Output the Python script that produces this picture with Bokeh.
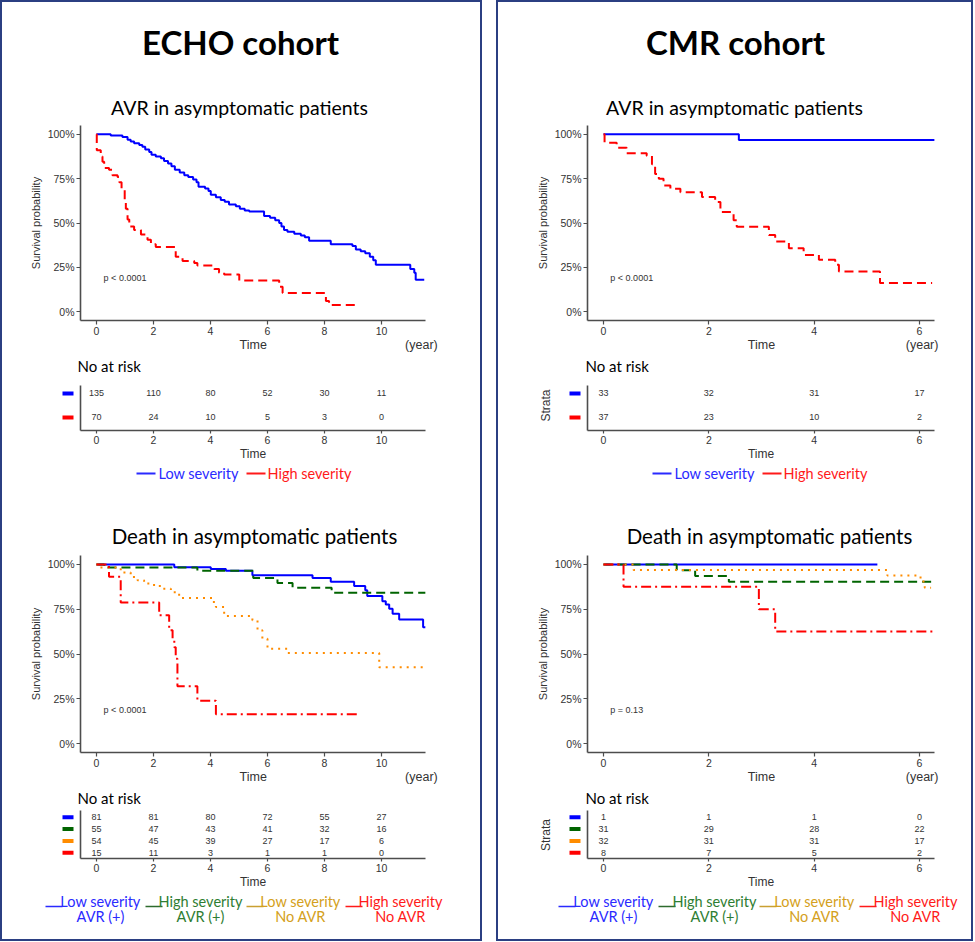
import math
from bokeh.plotting import figure
from bokeh.layouts import column, row
from bokeh.models import Range1d, FixedTicker, LinearAxis
from bokeh.embed import file_html
from bokeh.resources import INLINE
from bokeh.core.properties import value

SANS = "Liberation Sans"
CAL = "Lato"

# ---------------- data ----------------
pct_ticks = [0, 25, 50, 75, 100]
pct_labels = ["0%", "25%", "50%", "75%", "100%"]
echo_times = [0, 2, 4, 6, 8, 10]
cmr_times = [0, 2, 4, 6]

cohorts = ["ECHO cohort", "CMR cohort"]
panel_titles = ["AVR in asymptomatic patients", "Death in asymptomatic patients"]
avr_groups = ["Low severity", "High severity"]
death_groups = ["Low severity", "High severity", "Low severity", "High severity"]
death_subgroups = ["AVR (+)", "AVR (+)", "No AVR", "No AVR"]
p_values = ["p < 0.0001", "p < 0.0001", "p < 0.0001", "p = 0.13"]

# ECHO cohort - AVR
echo_avr_low_t = [0, 0.50, 0.91, 1.09, 1.20, 1.32, 1.50, 1.61, 1.71, 1.85, 1.93, 2.08, 2.26, 2.37,
                  2.51, 2.63, 2.75, 2.92, 3.08, 3.22, 3.39, 3.51, 3.58, 3.81, 3.93, 4.01, 4.19, 4.36,
                  4.50, 4.65, 4.89, 5.03, 5.20, 5.36, 5.88, 6.09, 6.27, 6.41, 6.49, 6.58, 6.70, 6.94,
                  7.17, 7.31, 7.46, 8.22, 8.98, 9.10, 9.27, 9.43, 9.59, 9.71, 9.80, 11.01, 11.15,
                  11.20, 11.50]
echo_avr_low_s = [100, 99.3, 98.5, 97, 96, 95, 94, 93, 91.5, 90, 88.5, 87.5, 86.5, 85,
                  83.5, 82, 80, 78.5, 77, 76, 74.5, 73, 70.5, 69.5, 68, 66, 64.5, 63,
                  62, 60.5, 59.5, 58, 57, 56.5, 54, 53, 51.5, 50, 48, 46, 45, 44,
                  43, 42, 40, 38, 37, 35, 34, 33, 31, 29, 26.5, 24, 22,
                  18, 18]
echo_avr_high_t = [0, 0.01, 0.15, 0.21, 0.27, 0.44, 0.56, 0.74, 0.80, 0.88, 0.99, 1.03, 1.09, 1.15,
                   1.32, 1.56, 1.79, 1.91, 2.08, 2.78, 3.02, 3.43, 3.54, 4.13, 4.30, 4.48, 5.01,
                   6.41, 6.53, 8.05, 8.16, 9.22]
echo_avr_high_s = [100, 91, 87.5, 84.5, 81, 80, 77, 76, 73, 69, 63, 58, 52, 48,
                   46, 43.5, 40.5, 38, 36.5, 31, 28.5, 27.5, 26, 24, 22, 21, 17.5,
                   14, 10.5, 6, 3.7, 3.7]
echo_avr_risk = [[135, 110, 80, 52, 30, 11],
                 [70, 24, 10, 5, 3, 0]]

# ECHO cohort - Death
echo_d_low_avr_t = [0, 2.73, 4.01, 4.54, 5.47, 7.58, 8.22, 9.04, 9.43, 9.50, 10.03, 10.15, 10.27,
                    10.39, 10.62, 11.46, 11.55]
echo_d_low_avr_s = [100, 98.5, 97.5, 96.5, 94, 92.5, 90.3, 88, 85.6, 82.4, 79.4, 77.6, 75.3,
                    72.5, 69.3, 65, 65]
echo_d_high_avr_t = [0, 0.27, 3.54, 5.50, 6.35, 6.88, 8.25, 11.55]
echo_d_high_avr_s = [100, 98.3, 96.5, 92.5, 89.7, 87, 84.2, 84.2]
echo_d_low_no_t = [0, 0.09, 0.85, 1.20, 1.44, 1.67, 2.02, 2.26, 2.61, 2.90, 4.07, 4.19, 4.48,
                   5.47, 5.65, 5.82, 6.00, 6.70, 9.92, 11.55]
echo_d_low_no_s = [100, 98.3, 95.5, 93, 91.2, 89.3, 87.9, 86.5, 84.5, 81.3, 79, 76.3, 71.2,
                   68.8, 63.2, 58.5, 52.9, 50.5, 42.6, 42.6]
echo_d_high_no_t = [0, 0.44, 0.85, 2.20, 2.55, 2.67, 2.73, 2.78, 2.84, 3.54, 4.19, 9.22]
echo_d_high_no_s = [100, 93.1, 78.7, 71.6, 63.2, 58.5, 53.8, 47.3, 32, 23.9, 16.4, 16.4]
echo_death_risk = [[81, 81, 80, 72, 55, 27],
                   [55, 47, 43, 41, 32, 16],
                   [54, 45, 39, 27, 17, 6],
                   [15, 11, 3, 1, 1, 0]]

# CMR cohort - AVR
cmr_avr_low_t = [0, 2.57, 6.29]
cmr_avr_low_s = [100, 96.8, 96.8]
cmr_avr_high_t = [0, 0.02, 0.25, 0.44, 0.82, 0.92, 0.98, 1.05, 1.14, 1.27, 1.46, 1.87, 2.12, 2.22,
                  2.47, 2.53, 3.14, 3.26, 3.52, 3.80, 4.09, 4.40, 4.47, 5.25, 6.24]
cmr_avr_high_s = [100, 95.3, 92.5, 89.4, 87.9, 83.2, 77.7, 74.9, 71.1, 69.3, 67.4, 64.6, 61.8, 56.2,
                  51.6, 47.9, 43.2, 39.5, 35.8, 32, 29.2, 26.4, 22.7, 16.2, 16.2]
cmr_avr_risk = [[33, 32, 31, 17],
                [37, 23, 10, 2]]

# CMR cohort - Death
cmr_d_low_avr_t = [0, 5.20]
cmr_d_low_avr_s = [100, 100]
cmr_d_high_avr_t = [0, 1.39, 1.74, 2.38, 6.30]
cmr_d_high_avr_s = [100, 96.8, 93.5, 90.3, 90.3]
cmr_d_low_no_t = [0, 0.57, 5.39, 6.02, 6.10, 6.22]
cmr_d_low_no_s = [100, 96.9, 93.8, 90.5, 87, 87]
cmr_d_high_no_t = [0, 0.38, 2.95, 3.26, 6.30]
cmr_d_high_no_s = [100, 87.5, 75, 62.5, 62.5]
cmr_death_risk = [[1, 1, 1, 0],
                  [31, 29, 28, 22],
                  [32, 31, 31, 17],
                  [8, 7, 5, 2]]

# ---------------- styles ----------------
BLUE, RED, GREEN, ORANGE = "#0000FF", "#FF0000", "#006400", "#FF8C00"
AVR_COLORS = [BLUE, RED]
AVR_DASH = ["solid", "9 5"]
D_COLORS = [BLUE, GREEN, ORANGE, RED]
D_DASH = ["solid", "9 5", "2 5", "10 4 2 4"]
LEG_TEXT = ["#2a2aff", "#2e7d32", "#d4a020", "#ff1a1a"]
LEG_LINE = ["#2a2aff", "#2e6b2e", "#c9a032", "#ff1a1a"]
AXC = "#4d4d4d"
TXC = "#333333"
BORDER = "2px solid #2b3f82"


def base_fig(width, height, **kw):
    p = figure(width=width, height=height, output_backend="svg", toolbar_location=None, **kw)
    p.outline_line_color = None
    p.background_fill_color = "white"
    p.border_fill_color = "white"
    return p


def text_fig(width, height, xr, yr):
    # x/y ranges in page pixel coordinates (y downwards), frame = whole canvas
    p = base_fig(width, height, x_range=Range1d(*xr), y_range=Range1d(yr[1], yr[0]),
                 min_border=0, x_axis_location=None, y_axis_location=None)
    p.xgrid.visible = False
    p.ygrid.visible = False
    return p


def style_axes(p):
    p.xgrid.visible = False
    p.ygrid.visible = False
    for ax in p.axis:
        ax.axis_line_color = AXC
        ax.axis_line_width = 1.6
        ax.major_tick_line_color = AXC
        ax.major_tick_line_width = 1.2
        ax.major_tick_out = 4
        ax.major_tick_in = 0
        ax.minor_tick_out = 0
        ax.minor_tick_line_color = None
        ax.major_label_text_font = SANS
        ax.major_label_text_font_size = "10.5px"
        ax.major_label_text_color = TXC
        ax.axis_label_text_font = SANS
        ax.axis_label_text_font_size = "12px"
        ax.axis_label_text_font_style = "normal"
        ax.axis_label_text_color = TXC
        ax.major_label_standoff = 2
        ax.axis_label_standoff = 1
    p.yaxis.axis_label_text_font_size = "11px"
    p.yaxis.axis_label_standoff = 3


def header_fig(width, height, xr, yr, texts, align="center"):
    p = text_fig(width, height, xr, yr)
    for (x, y, txt, size, style) in texts:
        p.text(x=[x], y=[y], text=[txt], text_align=align, text_baseline="middle",
               text_font=value(CAL), text_font_size=size, text_font_style=style, text_color="black")
    return p


def km_fig(width, height, xr, bl, br, bb, xticks, curves, pval, pval_x, time_x, year_x):
    p = base_fig(width, height, x_range=Range1d(*xr), y_range=Range1d(-5, 105),
                 min_border_left=bl, min_border_right=br, min_border_top=0, min_border_bottom=bb,
                 y_axis_label="Survival probability")
    style_axes(p)
    p.xaxis.ticker = FixedTicker(ticks=xticks)
    p.yaxis.ticker = FixedTicker(ticks=pct_ticks)
    p.yaxis.major_label_overrides = dict(zip(pct_ticks, pct_labels))
    # second row under the tick labels: "Time" and "(year)"
    ax2 = LinearAxis(ticker=FixedTicker(ticks=[time_x, year_x]),
                     major_label_overrides={time_x: "Time", year_x: "(year)"},
                     axis_line_color=None, major_tick_line_color=None, minor_tick_line_color=None,
                     major_tick_out=0, major_tick_in=0, minor_tick_out=0, major_label_standoff=0,
                     major_label_text_font=SANS, major_label_text_font_size="12.5px",
                     major_label_text_color=TXC)
    p.add_layout(ax2, "below")
    for t, s, color, dash in curves:
        p.step(t, s, mode="after", line_color=color, line_width=2, line_dash=dash)
    p.text(x=[pval_x], y=[18.7], text=[pval], text_align="left", text_baseline="middle",
           text_font=value(SANS), text_font_size="9px", text_color=TXC)
    return p


def risk_fig(width, height, xr, bl, br, bt, bb, times, counts, yr):
    p = base_fig(width, height, x_range=Range1d(*xr), y_range=Range1d(*yr),
                 min_border_left=bl, min_border_right=br, min_border_top=bt, min_border_bottom=bb,
                 x_axis_label="Time")
    style_axes(p)
    p.xaxis.ticker = FixedTicker(ticks=times)
    p.xaxis.major_tick_out = 3
    p.xaxis.axis_label_standoff = 0
    p.yaxis.ticker = FixedTicker(ticks=[])
    p.yaxis.major_tick_out = 0
    p.yaxis.major_label_standoff = 0
    n = len(counts)
    for i, cnt in enumerate(counts):
        yv = n - i
        p.text(x=times, y=[yv] * len(times), text=[str(c) for c in cnt], text_align="center",
               text_baseline="middle", text_font=value(SANS), text_font_size="9px", text_color=TXC)
    return p


def strata_fig(width, height, xr, bt, bb, yr, colors, dash_x, strata_x):
    # colored strata keys left of the risk table (x in page pixels, y shares the table's rows)
    p = base_fig(width, height, x_range=Range1d(*xr), y_range=Range1d(*yr),
                 min_border_left=0, min_border_right=0, min_border_top=bt, min_border_bottom=bb,
                 x_axis_location=None, y_axis_location=None)
    p.xgrid.visible = False
    p.ygrid.visible = False
    n = len(colors)
    ys = [n - i for i in range(n)]
    p.segment(x0=[dash_x[0]] * n, y0=ys, x1=[dash_x[1]] * n, y1=ys, line_color=colors,
              line_width=4, line_cap="butt")
    if strata_x is not None:
        p.text(x=[strata_x], y=[(n + 1) / 2], text=["Strata"], angle=math.pi / 2,
               text_align="center", text_baseline="middle", text_font=value(SANS),
               text_font_size="12px", text_color=TXC)
    return p


def legend1_fig(width, height, xr, yr, items):
    p = text_fig(width, height, xr, yr)
    for (lx0, lx1, tx, label, ci) in items:
        p.segment(x0=[lx0], y0=[473], x1=[lx1], y1=[473], line_color=LEG_LINE[ci], line_width=2)
        p.text(x=[tx], y=[473], text=[label], text_align="left", text_baseline="middle",
               text_font=value(CAL), text_font_size="14.5px", text_color=LEG_TEXT[ci])
    return p


def legend2_fig(width, height, xr, yr, items):
    p = text_fig(width, height, xr, yr)
    for (lx0, lx1, cx, label, sub, ci) in items:
        p.segment(x0=[lx0], y0=[906], x1=[lx1], y1=[906], line_color=LEG_LINE[ci], line_width=1.5)
        p.text(x=[cx, cx], y=[901, 916], text=[label, sub], text_align="center",
               text_baseline="middle", text_font=value(CAL), text_font_size="14.5px",
               text_color=LEG_TEXT[ci])
    return p


# ---------------- layout geometry (page pixels) ----------------
Y_HEAD1 = (2, 125)
Y_KM1 = (125, 354)
Y_NAR1 = (354, 377)
Y_RISK1 = (377, 463)
Y_LEG1 = (463, 488)
Y_HEAD2 = (488, 555)
Y_KM2 = (555, 786)
Y_NAR2 = (786, 806)
Y_RISK2 = (806, 891)
Y_LEG2 = (891, 939)


def h(span):
    return span[1] - span[0]


def build_panel(inner, frame, cohort_cx, avr_cx, death_cx, xr, times, avr_curves, avr_risk,
                death_curves, death_risk, pv, pval_x, time_x, year_x, strata_x, dash_x, nar_x,
                leg1_items, leg2_items, cohort_name):
    W = inner[1] - inner[0]
    bl = frame[0] - inner[0]
    br = inner[1] - frame[1]
    rbl = 4                       # left border of the risk table itself
    sw = bl - rbl                 # width of the strata key strip
    head1 = header_fig(W, h(Y_HEAD1), inner, Y_HEAD1, [
        (cohort_cx, 41, cohort_name, "33px", "bold"),
        (avr_cx, 107, panel_titles[0], "19.5px", "normal"),
    ])
    km1 = km_fig(W, h(Y_KM1), xr, bl, br, 34, times, avr_curves, pv[0], pval_x, time_x, year_x)
    nar1 = header_fig(W, h(Y_NAR1), inner, Y_NAR1, [(nar_x, 365, "No at risk", "15px", "normal")],
                      align="left")
    s1 = strata_fig(sw, h(Y_RISK1), (inner[0], inner[0] + sw), 8, 33, (0.458, 2.333),
                    AVR_COLORS, dash_x, strata_x)
    r1 = risk_fig(W - sw, h(Y_RISK1), xr, rbl, br, 8, 33, times, avr_risk, (0.458, 2.333))
    leg1 = legend1_fig(W, h(Y_LEG1), inner, Y_LEG1, leg1_items)
    head2 = header_fig(W, h(Y_HEAD2), inner, Y_HEAD2,
                       [(death_cx, 535, panel_titles[1], "20.5px", "normal")])
    km2 = km_fig(W, h(Y_KM2), xr, bl, br, 34, times, death_curves, pv[1], pval_x, time_x, year_x)
    nar2 = header_fig(W, h(Y_NAR2), inner, Y_NAR2, [(nar_x, 797, "No at risk", "15px", "normal")],
                      align="left")
    s2 = strata_fig(sw, h(Y_RISK2), (inner[0], inner[0] + sw), 4, 31, (0.513, 4.568),
                    D_COLORS, dash_x, strata_x)
    r2 = risk_fig(W - sw, h(Y_RISK2), xr, rbl, br, 4, 31, times, death_risk, (0.513, 4.568))
    leg2 = legend2_fig(W, h(Y_LEG2), inner, Y_LEG2, leg2_items)
    rows = [row(head1), row(km1), row(nar1), row(s1, r1), row(leg1),
            row(head2), row(km2), row(nar2), row(s2, r2), row(leg2)]
    return column(*rows, spacing=0, styles={"border": BORDER})


left = build_panel(
    (2, 480), (80, 425), 240, 239, 254, (-0.561, 11.544), echo_times,
    [(echo_avr_low_t, echo_avr_low_s, AVR_COLORS[0], AVR_DASH[0]),
     (echo_avr_high_t, echo_avr_high_s, AVR_COLORS[1], AVR_DASH[1])],
    echo_avr_risk,
    [(echo_d_low_avr_t, echo_d_low_avr_s, D_COLORS[0], D_DASH[0]),
     (echo_d_high_avr_t, echo_d_high_avr_s, D_COLORS[1], D_DASH[1]),
     (echo_d_low_no_t, echo_d_low_no_s, D_COLORS[2], D_DASH[2]),
     (echo_d_high_no_t, echo_d_high_no_s, D_COLORS[3], D_DASH[3])],
    echo_death_risk, p_values[0:2], 0.25, 5.5, 11.4, None, (62, 73), 77,
    [(136, 155, 158, avr_groups[0], 0), (246, 265, 267, avr_groups[1], 3)],
    [(45, 62, 100, death_groups[0], death_subgroups[0], 0),
     (145, 162, 200, death_groups[1], death_subgroups[1], 1),
     (246, 263, 300, death_groups[2], death_subgroups[2], 2),
     (345, 362, 400, death_groups[3], death_subgroups[3], 3)],
    cohorts[0])

right = build_panel(
    (498, 971), (587, 934), 735, 734, 769, (-0.304, 6.285), cmr_times,
    [(cmr_avr_low_t, cmr_avr_low_s, AVR_COLORS[0], AVR_DASH[0]),
     (cmr_avr_high_t, cmr_avr_high_s, AVR_COLORS[1], AVR_DASH[1])],
    cmr_avr_risk,
    [(cmr_d_low_avr_t, cmr_d_low_avr_s, D_COLORS[0], D_DASH[0]),
     (cmr_d_high_avr_t, cmr_d_high_avr_s, D_COLORS[1], D_DASH[1]),
     (cmr_d_low_no_t, cmr_d_low_no_s, D_COLORS[2], D_DASH[2]),
     (cmr_d_high_no_t, cmr_d_high_no_s, D_COLORS[3], D_DASH[3])],
    cmr_death_risk, p_values[2:4], 0.13, 3.0, 6.05, 545, (569, 580), 585,
    [(652, 671, 674, avr_groups[0], 0), (762, 781, 783, avr_groups[1], 3)],
    [(558, 575, 613, death_groups[0], death_subgroups[0], 0),
     (658, 675, 714, death_groups[1], death_subgroups[1], 1),
     (759, 776, 814, death_groups[2], death_subgroups[2], 2),
     (859, 876, 915, death_groups[3], death_subgroups[3], 3)],
    cohorts[1])

root = row(left, right, spacing=14)

open("out.html", "w").write(file_html(root, INLINE))
